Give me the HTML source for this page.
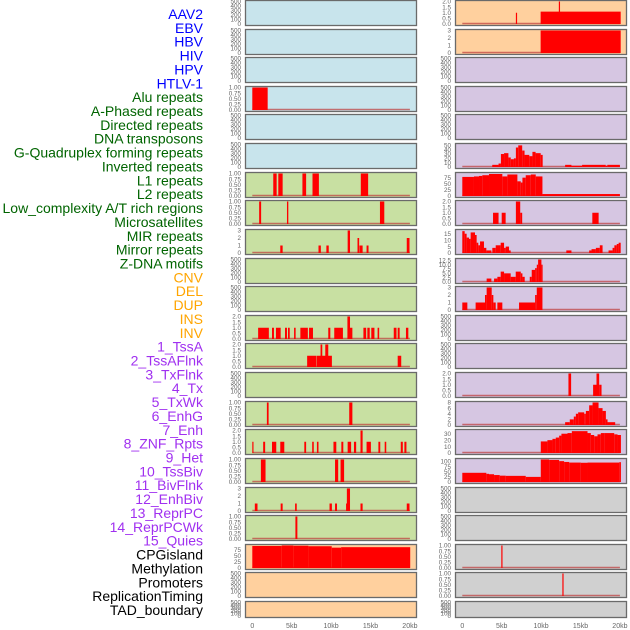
<!DOCTYPE html>
<html><head><meta charset="utf-8">
<style>
body{margin:0;background:#fff;width:630px;height:630px;overflow:hidden}
svg{display:block;font-family:"Liberation Sans",sans-serif}
</style></head>
<body>
<svg id="chart" width="630" height="630" viewBox="0 0 630 630" xmlns="http://www.w3.org/2000/svg">
<g id="labels"></g>
<g id="panels"></g>
<g id="xaxes"></g>
</svg>
<script>
const featureLabels = ["AAV2","EBV","HBV","HIV","HPV","HTLV-1","Alu repeats","A-Phased repeats","Directed repeats","DNA transposons","G-Quadruplex forming repeats","Inverted repeats","L1 repeats","L2 repeats","Low_complexity A/T rich regions","Microsatellites","MIR repeats","Mirror repeats","Z-DNA motifs","CNV","DEL","DUP","INS","INV","1_TssA","2_TssAFlnk","3_TxFlnk","4_Tx","5_TxWk","6_EnhG","7_Enh","8_ZNF_Rpts","9_Het","10_TssBiv","11_BivFlnk","12_EnhBiv","13_ReprPC","14_ReprPCWk","15_Quies","CPGisland","Methylation","Promoters","ReplicationTiming","TAD_boundary"];
const labelGroups = [6,13,5,15,5];
const xTicks = [0,5,10,15,20];
const xTickLabels = ["0","5kb","10kb","15kb","20kb"];

// left column series: [startKb, endKb, value]
const L0=[],L1=[],L2=[],L4=[],L5=[],L9=[],L10=[],L13=[],L20=[],L21=[];
const L3=[[0,1.95,1]];
const L6=[[2.66,3.09,1],[3.3,3.85,1],[6.36,6.83,1],[7.64,8.45,1],[13.77,14.7,1]];
const L7=[[0.87,1.12,1],[4.4,4.57,1],[16.2,16.75,1]];
const L8=[[3.55,3.85,1],[8.4,8.7,1],[9.4,9.7,1],[12.1,12.4,3],[13.35,13.56,2],[13.6,14.0,1],[14.5,14.75,1],[19.6,19.95,2]];
const L11=[[0.74,2.1,1],[2.5,2.75,1],[3.0,3.6,1],[4.15,4.4,1],[4.53,4.75,1],[5.3,5.5,1],[6.1,7.05,1],[7.2,7.7,1],[9.64,9.9,1],[10.4,11.5,1],[12.07,12.4,2],[12.4,12.7,1],[14.1,14.45,1],[14.6,14.9,1],[15.1,15.5,1],[15.9,16.1,1],[17.95,18.3,1],[18.45,18.7,1],[19.5,19.8,1]];
const L12=[[6.96,8.15,1],[8.2,10.1,1],[8.66,8.88,2],[9.26,9.64,2],[18.45,18.9,1]];
const L14=[[1.85,2.07,1],[12.3,12.7,1]];
const L15=[[0,0.15,1],[1.38,1.63,1],[2.5,3.04,1],[3.55,4.06,1],[6.6,6.83,1],[7.6,7.8,1],[8.2,8.4,1],[10.3,10.66,1],[11.3,11.55,1],[12.1,12.54,1],[12.9,13.18,1],[13.73,14.0,2],[14.5,15.05,1],[16.0,16.24,1],[16.8,17.0,1],[18.84,19.1,1],[19.3,19.56,1]];
const L16=[[1.09,1.68,1],[10.5,10.9,1],[11.2,11.65,1]];
const L17=[[0.32,0.66,1],[3.6,3.85,1],[5.43,5.64,1],[9.8,10.1,1],[10.5,10.75,1],[11.9,12.0,1],[12.0,12.4,3],[13.73,14.0,1],[19.6,19.95,1]];
const L18=[[5.47,5.72,1]];
const L19=[[0,3.73,92],[3.73,5.21,95],[5.21,7.12,93],[7.12,10.08,91],[10.08,11.27,85],[11.27,20.04,87]];

// right column series
const R2=[],R3=[],R4=[],R11=[],R12=[],R17=[],R18=[],R21=[];
const R0=[[6.8,6.95,1],[9.94,20.1,1.1],[12.25,12.4,2.1]];
const R1=[[9.94,20.1,3]];
const R5=[[3.8,4.6,5],[4.6,4.9,8],[4.9,5.3,30],[5.3,5.85,32],[5.85,6.15,22],[6.15,6.55,18],[6.55,6.8,20],[6.8,7.1,45],[7.1,7.6,50],[7.6,7.9,38],[7.9,8.5,28],[8.5,8.9,25],[8.9,9.3,35],[9.3,9.95,32],[9.95,10.2,28],[13.05,13.85,5],[13.85,15.2,3],[15.2,18.2,5],[18.2,18.4,3],[18.4,20,5]];
const R6=[[0,1.48,78],[1.48,2.12,80],[2.12,2.54,82],[2.54,3.39,85],[3.39,5.08,90],[5.08,5.72,80],[5.72,6.99,88],[6.99,7.42,60],[7.42,7.63,55],[7.63,8.05,75],[8.05,8.69,85],[8.69,9.32,88],[9.32,10.17,80],[10.17,20,8]];
const R7=[[3.9,4.6,1],[5.0,5.5,1],[6.8,7.35,2],[7.35,7.6,1],[16.5,17.3,1]];
const R8=[[0,0.3,17],[0.3,0.55,15],[0.55,0.85,12],[0.85,1.06,11],[1.06,1.61,16],[1.61,1.82,14],[1.82,2.03,8],[2.03,2.25,6],[2.25,2.75,9],[2.75,3.05,4],[3.05,3.69,2],[3.81,4.24,4],[4.24,4.87,6],[4.87,5.3,8],[5.3,5.51,4],[5.51,5.93,5],[5.93,6.14,2],[13.2,13.85,2],[16.1,16.4,2],[16.4,16.95,3],[16.95,17.45,4],[17.45,17.8,6],[18.56,19.07,2],[19.07,19.3,4],[19.3,19.6,6],[19.6,19.84,7],[19.84,20.1,8]];
const R9=[[3.09,3.69,2],[4.03,4.45,2],[4.45,4.87,3],[4.87,5.3,6],[5.3,6.14,5],[6.14,6.78,3],[6.78,7.42,6],[7.42,7.63,5],[7.63,7.92,3],[8.56,8.81,3],[8.81,9.24,7],[9.24,9.45,8],[9.45,9.62,10],[9.62,10.04,13],[10.04,10.17,10]];
const R10=[[0,0.64,1],[1.69,2.88,1],[2.88,3.09,2],[3.09,3.73,3],[3.73,3.94,2],[3.94,4.24,1],[4.45,5.08,1],[7.2,9.24,1],[9.24,9.45,2],[9.45,10.17,3]];
const R13=[[13.47,13.81,2],[16.6,17.03,1],[17.03,17.37,2],[17.37,17.67,1]];
const R14=[[13.05,13.64,1],[13.64,14.15,2],[14.15,14.41,3],[14.41,14.7,4],[14.7,15.47,4.5],[15.47,15.68,4],[15.68,16.1,5],[16.1,16.53,7],[16.53,17.29,8],[17.29,17.8,6],[17.8,18.22,5],[18.22,18.43,2],[18.43,19.4,1]];
const R15=[[9.96,10.8,18],[10.8,11.44,20],[11.44,11.86,22],[11.86,12.29,24],[12.29,12.58,27],[12.58,13.35,30],[13.35,13.9,31],[13.9,15.89,34],[15.89,16.31,31],[16.31,16.74,28],[16.74,17.16,26],[17.16,17.58,29],[17.58,18.0,31],[18.0,19.28,31],[19.28,19.7,29],[19.7,20.13,28]];
const R16=[[0,3.05,45],[3.05,3.39,40],[3.39,4.03,38],[4.03,4.75,34],[4.75,5.51,31],[5.51,8.05,30],[8.05,9.96,25],[9.96,11.02,110],[11.02,12.29,108],[12.29,12.92,102],[12.92,13.56,98],[13.56,15.04,95],[15.04,15.89,94],[15.89,19.92,95],[19.92,20.13,97]];
const R19=[[4.95,5.1,1]];
const R20=[[12.7,12.85,1]];

const leftSeries=[L0,L1,L2,L3,L4,L5,L6,L7,L8,L9,L10,L11,L12,L13,L14,L15,L16,L17,L18,L19,L20,L21];
const rightSeries=[R0,R1,R2,R3,R4,R5,R6,R7,R8,R9,R10,R11,R12,R13,R14,R15,R16,R17,R18,R19,R20,R21];
const leftMax=[500,500,500,1,500,500,1,1,3,500,500,2,2,500,1,2,1,3,1,94,500,500];
const rightMax=[2,3,500,500,500,52,92,2,17.5,13,3,500,500,2,8,35,110,500,500,1,1,500];
const ticksEmpty=["0","100","200","300","400","500"];
const ticksUnit=["0.00","0.25","0.50","0.75","1.00"];
const ticksTwo=["0.0","0.5","1.0","1.5","2.0"];
const ticksThree=["0","1","2","3"];
const leftTicks=[ticksEmpty,ticksEmpty,ticksEmpty,ticksUnit,ticksEmpty,ticksEmpty,ticksUnit,ticksUnit,ticksThree,ticksEmpty,ticksEmpty,ticksTwo,ticksTwo,ticksEmpty,ticksUnit,ticksTwo,ticksUnit,ticksThree,ticksUnit,["0","25","50","75"],ticksEmpty,ticksEmpty];
const rightTicks=[ticksTwo,ticksThree,ticksEmpty,ticksEmpty,ticksEmpty,["0","10","20","30","40","50"],["0","25","50","75"],ticksTwo,["0","5","10","15"],["0.0","2.5","5.0","7.5","10.0","12.5"],ticksThree,ticksEmpty,ticksEmpty,ticksTwo,["0","2","4","6","8"],["0","10","20","30"],["0","25","50","75","100"],ticksEmpty,ticksEmpty,ticksUnit,ticksUnit,ticksEmpty];

const NS="http://www.w3.org/2000/svg";
function mk(tag,attrs,parent){const e=document.createElementNS(NS,tag);for(const k in attrs)e.setAttribute(k,attrs[k]);parent.appendChild(e);return e;}

const colors=["#0000ff","#006400","#ffa500","#a030f0","#000000"];
const labG=document.getElementById('labels');
let gi=0,cnt=0;
featureLabels.forEach((t,i)=>{
  while(cnt>=labelGroups[gi]){cnt=0;gi++;}
  cnt++;
  const el=mk('text',{x:203,y:14+i*13.86+5,'text-anchor':'end','font-size':'14',fill:colors[gi]},labG);
  el.textContent=t;
  
  
});

const rowTops=[];for(let i=0;i<22;i++)rowTops.push(Math.round(i*28.62));
const bgLeft=i=>i<6?"#c8e4ec":(i<19?"#c8e0a2":"#ffd09e");
const bgRight=i=>i<2?"#ffd09e":(i<17?"#d6c6e2":"#d0d0d0");
const pG=document.getElementById('panels');
function xScale(x0,kb){return x0+7.3+kb*7.88;}

function drawPanel(colX,i,series,ymax,ticks,bg,side){
  const top=rowTops[i];const h=(i===21)?16:25;
  const g=mk('g',{},pG);
  
  
  const r=mk('rect',{x:colX+0.5,y:top+0.5,width:171,height:h,fill:bg,stroke:'#6a6a6a','stroke-width':1.3},g);
  
  
  const y0=top+h-1,y1=top+1.5;
  const ys=v=>y0-(Math.min(v,ymax)/ymax)*(y0-y1);
  // ticks
  const n=ticks.length;
  ticks.forEach((t,k)=>{
    const v=(ymax>=100&&ticks===ticksEmpty)?k*100:parseFloat(t);
    const yy=ys(v);
    const tx=mk('text',{x:colX-4,y:yy+2.2,'text-anchor':'end','font-size':'6.3',fill:'#666'},g);
    tx.textContent=t;
    
    
  });
  if(series.length){
    const bl=mk('line',{x1:xScale(colX,0),x2:xScale(colX,20),y1:y0-0.5,y2:y0-0.5,stroke:'rgba(190,60,60,0.7)','stroke-width':1.5},g);
    
    
  }
  series.forEach(s=>{
    const xa=xScale(colX,s[0]),xb=xScale(colX,s[1]);
    const yt=ys(s[2]);
    const b=mk('rect',{x:xa,y:yt,width:Math.max(1.2,xb-xa),height:y0-yt,fill:'#ff0000'},g);
    
    
  });
}
for(let i=0;i<22;i++){
  drawPanel(245,i,leftSeries[i],leftMax[i],leftTicks[i],bgLeft(i),'left');
  drawPanel(455,i,rightSeries[i],rightMax[i],rightTicks[i],bgRight(i),'right');
}
const xG=document.getElementById('xaxes');
[245,455].forEach(cx=>{
  xTicks.forEach((v,k)=>{
    const t=mk('text',{x:xScale(cx,v),y:628,'text-anchor':'middle','font-size':'7',fill:'#666'},xG);
    t.textContent=xTickLabels[k];
    
    
  });
});
</script>
</body></html>
